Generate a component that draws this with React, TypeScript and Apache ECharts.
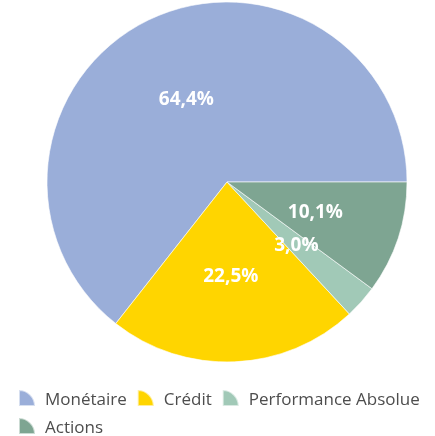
import React, { useEffect, useRef } from "react";
import * as echarts from "echarts";

const categories = ["Monétaire", "Crédit", "Performance Absolue", "Actions"];
const values = [64.4, 22.5, 3.0, 10.1];
const colors = ["#9aaed9", "#ffd500", "#a1c9b7", "#7ea592"];

const ICON = "path://M0,0 A16,16 0 0 1 16,16 L0,16 Z";

export default function App() {
  const ref = useRef<HTMLDivElement>(null);
  useEffect(() => {
    if (!ref.current) return;
    const chart = echarts.init(ref.current, null, { renderer: "svg" });
    chart.setOption({
      animation: false,
      color: colors,
      legend: {
        left: 18,
        top: 389,
        padding: 0,
        width: 420,
        icon: ICON,
        itemWidth: 16,
        itemHeight: 16,
        itemGap: 10,
        textStyle: {
          fontFamily: "Open Sans",
          fontSize: 17,
          color: "#4d4d4d",
          padding: [0, 0, 0, 5],
        },
        data: categories,
      },
      series: [
        {
          type: "pie",
          center: [227, 182],
          radius: 180,
          startAngle: 0,
          clockwise: false,
          itemStyle: { borderColor: "rgba(255,255,255,0.6)", borderWidth: 1 },
          label: {
            show: true,
            position: "inside",
            color: "#fff",
            fontFamily: "Open Sans",
            fontWeight: "bold",
            fontSize: 19,
            formatter: (p: any) => p.value.toFixed(1).replace(".", ",") + "%",
          },
          labelLine: { show: false },
          emphasis: { disabled: true },
          data: categories.map((c, i) => ({ name: c, value: values[i] })),
        },
      ],
    });
    return () => chart.dispose();
  }, []);
  return (
    <div
      ref={ref}
      style={{ position: "fixed", left: 0, top: 0, width: 435, height: 436 }}
    />
  );
}
